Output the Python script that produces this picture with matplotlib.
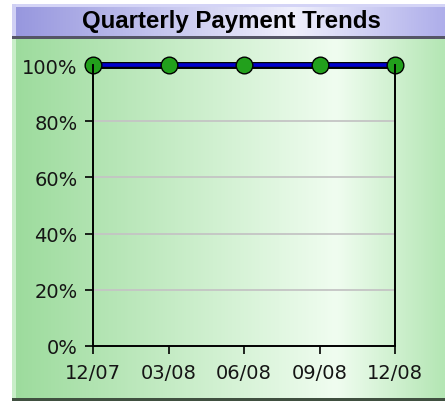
import numpy as np
import matplotlib
matplotlib.use("Agg")
import matplotlib.pyplot as plt
import matplotlib.patheffects as pe
from matplotlib.colors import LinearSegmentedColormap

# Data
quarters = ["12/07", "03/08", "06/08", "09/08", "12/08"]
payment_pct = [100, 100, 100, 100, 100]
y_ticks = [0, 20, 40, 60, 80, 100]
title = "Quarterly Payment Trends"

W, H = 445, 402
fig = plt.figure(figsize=(W / 100, H / 100), dpi=100)
fig.patch.set_facecolor("white")

# Background layer in pixel coordinates
bg = fig.add_axes([0, 0, 1, 1], zorder=0)
bg.set_xlim(0, W)
bg.set_ylim(H, 0)
bg.axis("off")

green = LinearSegmentedColormap.from_list(
    "g", [(0, "#9cdb9c"), (0.75, "#f0fdf0"), (1, "#b4e6b4")])
purple = LinearSegmentedColormap.from_list(
    "p", [(0, "#9696de"), (0.65, "#efeffc"), (1, "#aeaeea")])
grad = np.linspace(0, 1, 256).reshape(1, -1)
bg.imshow(grad, cmap=green, extent=[12, W, 399, 40], aspect="auto", zorder=1)
bg.imshow(grad, cmap=purple, extent=[12, W, 37, 5], aspect="auto", zorder=1)
# light inner left strips
bg.fill_between([12, 16], 40, 399, color="#c8eec8", zorder=2, lw=0)
bg.fill_between([12, 16], 5, 37, color="#d0d0f4", zorder=2, lw=0)
bg.fill_between([16, W], 5, 8, color="#d4d4f6", zorder=2, lw=0)
# dark separators
bg.fill_between([12, W], 36.5, 39.5, color="#555566", zorder=3, lw=0)
bg.fill_between([12, W], 399, 402, color="#405040", zorder=3, lw=0)
bg.text(231.5, 21.5, title, ha="center", va="center",
        fontsize=17.3, fontweight="bold", family="Liberation Sans",
        color="black", zorder=4)

# Plot area
ax = fig.add_axes([93 / W, 1 - 347 / H, (395 - 93) / W, (347 - 66) / H], zorder=2)
ax.patch.set_alpha(0)
x = np.arange(len(quarters))
ax.set_xlim(0, len(quarters) - 1)
ax.set_ylim(0, 100)
for v in y_ticks[1:]:
    ax.axhline(v, color="#c4c4c4", lw=1.3, zorder=1)
ax.plot(x, payment_pct, color="#0000cc", lw=2.6, zorder=3,
        solid_capstyle="butt",
        path_effects=[pe.Stroke(linewidth=5.0, foreground="black"), pe.Normal()],
        clip_on=False)
ax.plot(x, payment_pct, ls="none", marker="o", ms=12, mfc="#22a01c",
        mec="black", mew=1.0, zorder=4, clip_on=False)

ax.spines["top"].set_visible(False)
for s in ["left", "right", "bottom"]:
    ax.spines[s].set_color("black")
    ax.spines[s].set_linewidth(1.4)
    ax.spines[s].set_zorder(5)
ax.set_xticks(x)
ax.set_xticklabels(quarters)
ax.set_yticks(y_ticks)
ax.set_yticklabels([f"{v}%" for v in y_ticks])
ax.tick_params(axis="both", direction="out", length=6, width=1.2, color="black",
               labelsize=14, labelcolor="#151515")
ax.tick_params(axis="y", pad=5)
ax.tick_params(axis="x", pad=6)
for lab in ax.get_xticklabels() + ax.get_yticklabels():
    lab.set_family("DejaVu Sans")

fig.savefig("out.png", dpi=100)
